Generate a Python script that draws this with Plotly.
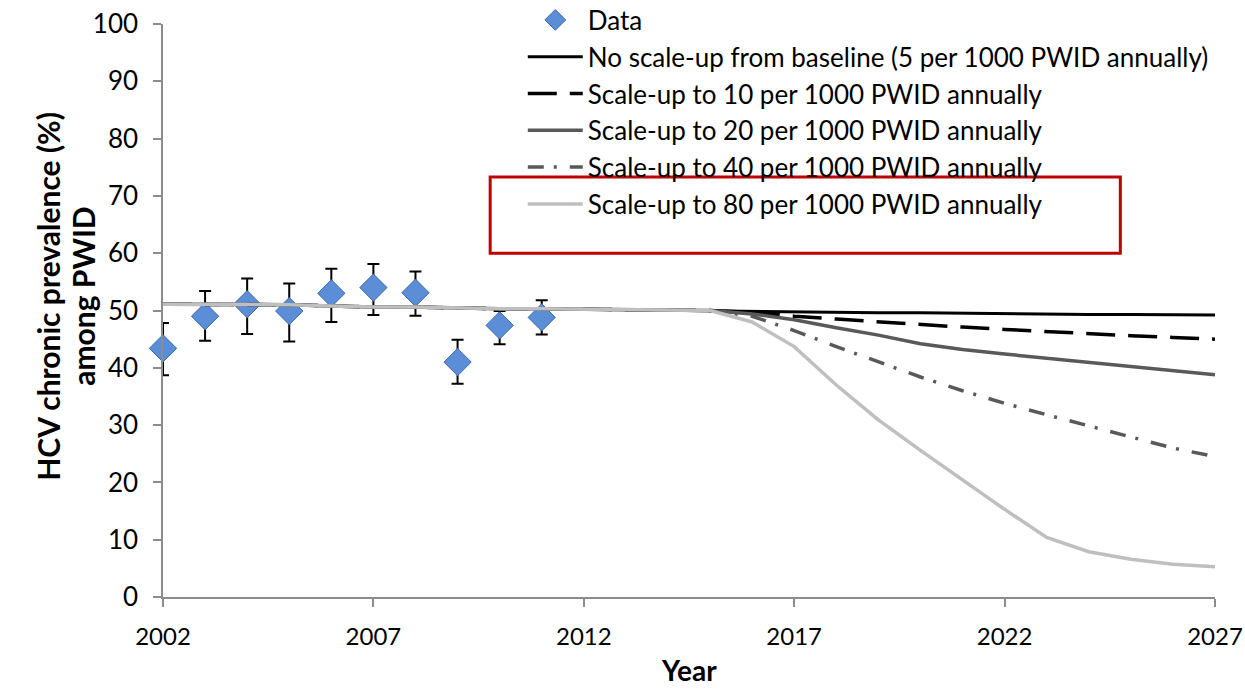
import plotly.graph_objects as go

# Observed chronic HCV prevalence among PWID with error bars
data_years = [2002, 2003, 2004, 2005, 2006, 2007, 2008, 2009, 2010, 2011]
data_prev = [43.4, 49.0, 51.1, 49.9, 53.0, 54.0, 53.1, 41.0, 47.4, 48.8]
data_upper = [47.8, 53.4, 55.6, 54.7, 57.3, 58.1, 56.8, 44.9, 49.9, 51.8]
data_lower = [38.7, 44.7, 45.9, 44.6, 48.0, 49.2, 49.1, 37.2, 44.1, 45.8]

# Model projections (annual values), shared history up to 2015
model_years = list(range(2002, 2028))
history = [51.1, 51.1, 51.1, 51.0, 50.8, 50.6, 50.6, 50.4, 50.3, 50.3, 50.2, 50.1, 50.1, 50.0]
proj_5 = [49.9, 49.8, 49.7, 49.6, 49.6, 49.5, 49.4, 49.4, 49.3, 49.3, 49.2, 49.2]
proj_10 = [49.7, 49.0, 48.5, 48.0, 47.5, 47.1, 46.7, 46.3, 45.9, 45.6, 45.3, 45.0]
proj_20 = [49.4, 48.4, 47.0, 45.7, 44.2, 43.2, 42.4, 41.7, 41.0, 40.3, 39.5, 38.8]
proj_40 = [49.0, 46.5, 43.7, 41.0, 38.4, 36.0, 33.8, 31.8, 29.9, 28.0, 26.0, 24.5]
proj_80 = [48.0, 43.7, 37.0, 30.9, 25.6, 20.4, 15.3, 10.4, 7.9, 6.6, 5.7, 5.3]

series_names = [
    "No scale-up from baseline (5 per 1000 PWID annually)",
    "Scale-up to 10 per 1000 PWID annually",
    "Scale-up to 20 per 1000 PWID annually",
    "Scale-up to 40 per 1000 PWID annually",
    "Scale-up to 80 per 1000 PWID annually",
]
series_values = [proj_5, proj_10, proj_20, proj_40, proj_80]
series_colors = ["#000000", "#000000", "#595959", "#595959", "#bfbfbf"]
series_dash = ["solid", "29px,13px", "solid", "16px,10px,3px,13px", "solid"]

x_ticks = [2002, 2007, 2012, 2017, 2022, 2027]
y_ticks = list(range(0, 101, 10))
y_title_lines = ["HCV chronic prevalence (%)", "among PWID"]
x_title = "Year"

FONT = "Lato"

fig = go.Figure()

err_plus = [u - v for u, v in zip(data_upper, data_prev)]
err_minus = [v - l for v, l in zip(data_prev, data_lower)]

fig.add_trace(go.Scatter(
    x=data_years, y=data_prev, mode="markers", name="Data",
    marker=dict(symbol="diamond", size=21, color="#5b8ed6",
                line=dict(color="#3d6bab", width=1)),
    error_y=dict(type="data", symmetric=False, array=err_plus,
                 arrayminus=err_minus, color="#000000", thickness=2, width=6),
    cliponaxis=False,
))

for i, (name, vals, col, dash) in enumerate(zip(series_names, series_values,
                                                 series_colors, series_dash)):
    fig.add_trace(go.Scatter(
        x=model_years, y=history + vals, mode="lines", name=name,
        line=dict(color=col, width=3.5 if i > 0 else 3, dash=dash),
    ))

# Highlight box around the most intensive scenario
fig.add_shape(type="rect", xref="paper", yref="paper",
              x0=0.311, x1=0.910, y0=0.600, y1=0.733,
              line=dict(color="#c00000", width=3), fillcolor="rgba(0,0,0,0)")

# Vertical axis title, set as two rotated lines
for line_text, xpos in zip(y_title_lines, [-0.1093, -0.0760]):
    fig.add_annotation(
        text=f"<b>{line_text}</b>",
        xref="paper", yref="paper", x=xpos, y=0.524,
        xanchor="center", yanchor="middle", textangle=-90, showarrow=False,
        font=dict(size=30, family=FONT, color="#000000"),
    )

# Horizontal axis title, kept inside the bottom edge
fig.add_annotation(
    text=f"<b>{x_title}</b>", xref="paper", yref="paper", x=0.5, y=-0.1605,
    xanchor="center", yanchor="bottom", showarrow=False,
    font=dict(size=28, family=FONT, color="#000000"),
)

fig.update_layout(
    width=1245, height=691,
    margin=dict(l=163, r=30, t=24, b=94, autoexpand=False),
    paper_bgcolor="white", plot_bgcolor="white",
    font=dict(family=FONT, color="#000000", size=22),
    showlegend=True,
    legend=dict(x=0.342, y=1.048, xanchor="left", yanchor="top",
                bgcolor="rgba(0,0,0,0)", font=dict(size=26, family=FONT),
                itemwidth=55, traceorder="normal", itemclick=False),
    xaxis=dict(range=[2002, 2027], tickvals=x_ticks, ticktext=[str(t) for t in x_ticks],
               showgrid=False, zeroline=False, showline=True,
               linecolor="#8c8c8c", linewidth=1.5, ticks="outside",
               tickcolor="#8c8c8c", ticklen=8, tickwidth=1.5, ticklabelstandoff=9,
               tickfont=dict(size=24, family=FONT)),
    yaxis=dict(range=[0, 100], tickvals=y_ticks,
               showgrid=False, zeroline=False, showline=True,
               linecolor="#8c8c8c", linewidth=1.5, ticks="outside",
               tickcolor="#8c8c8c", ticklen=8, tickwidth=1.5, ticklabelstandoff=10,
               tickfont=dict(size=26, family=FONT)),
)

fig.write_html("out.html")
